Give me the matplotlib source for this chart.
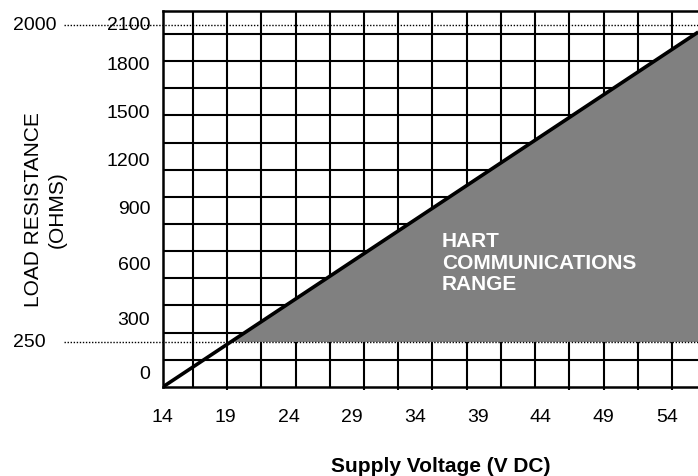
import numpy as np
import matplotlib
matplotlib.use("Agg")
import matplotlib.pyplot as plt

plt.rcParams['font.family'] = ['Liberation Sans', 'DejaVu Sans']

# load line (volts, ohms)
load_volts = [14.0, 56.5]
load_ohms = [0.0, 1960.0]
hart_min_ohms = 250
max_ohms_mark = 2000

x_tick_labels = ['14', '19', '24', '29', '34', '39', '44', '49', '54']
x_tick_values = [14, 19, 24, 29, 34, 39, 44, 49, 54]
y_tick_labels = ['0', '300', '600', '900', '1200', '1500', '1800', '2100']
# where the schematic prints the y labels (not on a linear scale)
y_tick_spots = [83, 381, 690, 994, 1259, 1524, 1794, 2015]

fig = plt.figure(figsize=(6.98, 4.77), dpi=100)
ax = fig.add_axes([0.2332, 0.1866, 0.7668, 0.7882])
ax.set_xlim(14, 56.48)
ax.set_ylim(0, 2076)

# schematic grid
vgrid = np.linspace(16.40, 54.41, 15)
hgrid = np.arange(150, 2000, 150)
ax.vlines(vgrid, 0, 2076, colors='black', lw=1.5, zorder=1)
ax.hlines(hgrid, 14, 56.48, colors='black', lw=1.5, zorder=1)
# little tick stubs below some of the grid lines
stub_idx = [1, 5, 6, 7, 8, 11, 12, 13, 14]
ax.vlines(vgrid[stub_idx], -16, 0, colors='black', lw=1.5, clip_on=False)

# shaded HART range
v = np.array(load_volts)
r = np.array(load_ohms)
ax.fill_between(v, hart_min_ohms, r, where=r >= hart_min_ohms, interpolate=True,
                color='#808080', lw=0, zorder=2)
ax.plot(v, r, color='black', lw=2.6, zorder=4, solid_capstyle='butt')

# dotted limit lines running out to the left labels
for val in (hart_min_ohms, max_ohms_mark):
    ax.plot([6.2, 56.48], [val, val], color='black', lw=1.0,
            linestyle=(0, (1, 1.2)), clip_on=False, zorder=3)
ax.text(-0.239, max_ohms_mark, str(max_ohms_mark), transform=ax.get_yaxis_transform(),
        fontsize=14, ha='center', va='center')
ax.text(-0.25, hart_min_ohms, str(hart_min_ohms), transform=ax.get_yaxis_transform(),
        fontsize=14, ha='center', va='center')

ax.text(36.16, 690, 'HART\nCOMMUNICATIONS\nRANGE', color='white', fontsize=15,
        fontweight='bold', ha='left', va='center', linespacing=1.18, zorder=5)

ax.set_xticks(x_tick_values)
ax.set_xticklabels(x_tick_labels)
ax.set_yticks(y_tick_spots)
ax.set_yticklabels(y_tick_labels)
ax.tick_params(axis='x', length=0, pad=15, labelsize=14)
ax.tick_params(axis='y', length=0, pad=9, labelsize=14)

for side in ('left', 'top', 'bottom'):
    ax.spines[side].set_linewidth(1.8)
    ax.spines[side].set_zorder(6)
ax.spines['right'].set_visible(False)

fig.text(45 / 698, 1 - 210 / 477, 'LOAD RESISTANCE\n(OHMS)', rotation=90,
         fontsize=15, ha='center', va='center', multialignment='center',
         linespacing=1.3)
fig.text(441 / 698, 1 - 467 / 477, 'Supply Voltage (V DC)', fontsize=15,
         fontweight='bold', ha='center', va='center')

fig.savefig('out.png', dpi=100)
